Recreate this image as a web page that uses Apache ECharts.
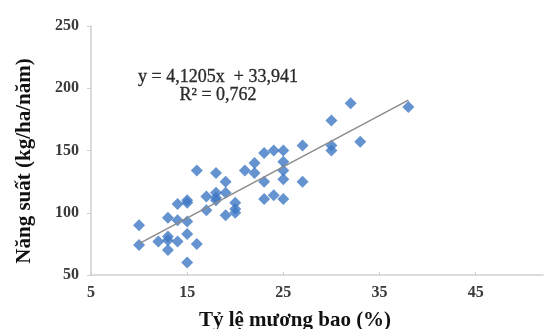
<!DOCTYPE html>
<html>
<head>
<meta charset="utf-8">
<script src="https://cdn.jsdelivr.net/npm/echarts@6/dist/echarts.min.js"></script>
<style>
html,body{margin:0;padding:0;background:#fff;}
#chart{width:546px;height:329px;}
</style>
</head>
<body>
<div id="chart"></div>
<script>
// Tỷ lệ mương bao (%) vs Năng suất (kg/ha/năm)
const xValues = [10,10,12,13,13,13,13,14,14,14,15,15,15,15,15,16,16,17,17,18,18,18,18,19,19,19,20,20,20,21,22,22,23,23,23,24,24,25,25,25,25,25,27,27,30,30,30,32,33,38];
const yValues = [90,74,77,96,81,78,70,77,94,107,108,110,93,83,60,134,75,113,102,132,116,112,110,125,116,98,108,103,100,134,140,132,148,125,111,150,114,150,141,134,127,111,154,125,174,154,150,188,157,185];
const xTicks = [5,15,25,35,45];
const yTicks = [50,100,150,200,250];
const trendSlope = 4.1205;
const trendIntercept = 33.941;
const trendRange = [10,38];
const equationLines = ['y = 4,1205x  + 33,941', 'R² = 0,762'];
const xTitle = 'Tỷ lệ mương bao (%)';
const yTitle = 'Năng suất (kg/ha/năm)';

const points = xValues.map((x,i)=>[x,yValues[i]]);
const trend = trendRange.map(x=>[x, trendSlope*x + trendIntercept]);

const chart = echarts.init(document.getElementById('chart'));
const serif = '"Liberation Serif","Times New Roman",serif';
chart.setOption({
  animation:false,
  backgroundColor:'#fff',
  grid:{left:91,top:26,right:3,bottom:54},
  xAxis:{
    type:'value', min:5, max:52,
    axisLine:{show:true,lineStyle:{color:'#cfcfcf',width:1.5}},
    axisTick:{show:true,inside:true,length:3,customValues:xTicks,lineStyle:{color:'#cfcfcf'}},
    splitLine:{show:false},
    axisLabel:{customValues:xTicks,margin:10,color:'#3a3a3a',fontFamily:serif,fontWeight:'bold',fontSize:16}
  },
  yAxis:{
    type:'value', min:50, max:250, interval:50,
    axisLine:{show:true,lineStyle:{color:'#cfcfcf',width:1.5}},
    axisTick:{show:true,length:4,lineStyle:{color:'#cfcfcf'}},
    splitLine:{show:false},
    axisLabel:{customValues:yTicks,margin:12,color:'#3a3a3a',fontFamily:serif,fontWeight:'bold',fontSize:16}
  },
  series:[
    {type:'line',data:trend,symbol:'none',lineStyle:{color:'#8c8c8c',width:1.5},z:3},
    {type:'scatter',data:points,symbol:'diamond',symbolSize:[12,12],itemStyle:{color:'#3f78c4'},z:2}
  ],
  graphic:[
    {type:'text',x:218,y:77,style:{text:equationLines[0],font:'18px '+serif,fill:'#2a2a2a',stroke:'#2a2a2a',lineWidth:0.3,align:'center',verticalAlign:'middle'}},
    {type:'text',x:218,y:95,style:{text:equationLines[1],font:'18px '+serif,fill:'#2a2a2a',stroke:'#2a2a2a',lineWidth:0.3,align:'center',verticalAlign:'middle'}},
    {type:'text',x:295,y:321,style:{text:xTitle,font:'bold 21px '+serif,fill:'#111',align:'center',verticalAlign:'middle'}},
    {type:'text',x:25,y:161,rotation:Math.PI/2,style:{text:yTitle,font:'bold 21px '+serif,fill:'#111',align:'center',verticalAlign:'middle'}}
  ]
});
</script>
</body>
</html>
